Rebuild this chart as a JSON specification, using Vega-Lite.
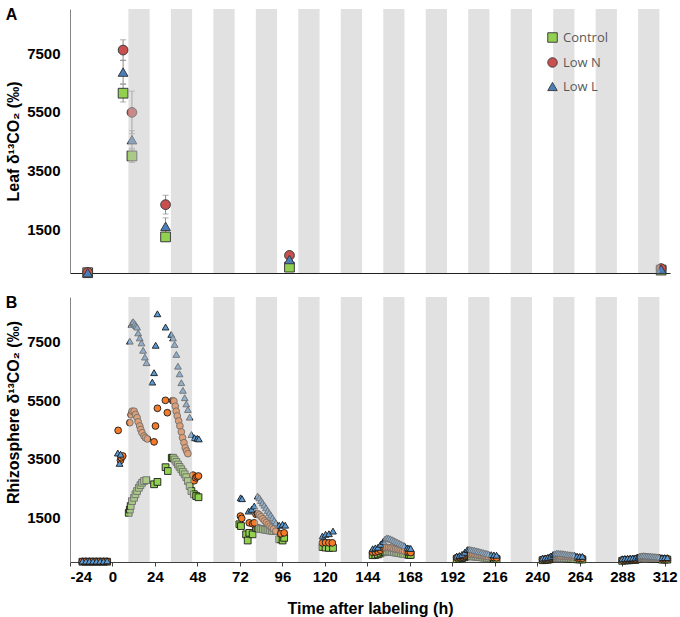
{
"$schema": "https://vega.github.io/schema/vega-lite/v6.json",
"padding": {"left": 5, "top": 7, "right": 2, "bottom": 2},
"spacing": 15,
"config": {
  "view": {"stroke": null},
  "font": "Liberation Sans",
  "axis": {"grid": false, "labelFontSize": 15, "labelFontWeight": "bold", "labelColor": "#000000", "titleFontSize": 16, "titleFontWeight": "bold", "titleColor": "#000000"},
  "legend": {"orient": "none", "legendX": 476, "legendY": 22, "labelFont": "Open Sans", "labelFontSize": 13, "labelColor": "#595959", "symbolStrokeColor": "#404040", "symbolStrokeWidth": 1, "symbolSize": 90, "rowPadding": 10, "labelOffset": 4, "title": null}
},
"resolve": {"scale": {"color": "independent", "shape": "independent"}, "legend": {"color": "independent", "shape": "independent"}},
"datasets": {
  "bands": [
    {"s": 9, "e": 21}, {"s": 33, "e": 45}, {"s": 57, "e": 69}, {"s": 81, "e": 93}, {"s": 105, "e": 117},
    {"s": 129, "e": 141}, {"s": 153, "e": 165}, {"s": 177, "e": 189}, {"s": 201, "e": 213}, {"s": 225, "e": 237},
    {"s": 249, "e": 261}, {"s": 273, "e": 285}, {"s": 297, "e": 309}
  ],
  "leaf": [
    {"t": -14, "g": "Control", "v": 10, "lo": 10, "hi": 10},
    {"t": 6, "g": "Control", "v": 6130, "lo": 5830, "hi": 6430},
    {"t": 11, "g": "Control", "v": 3990, "lo": 3770, "hi": 4200},
    {"t": 30, "g": "Control", "v": 1230, "lo": 1100, "hi": 1360},
    {"t": 100, "g": "Control", "v": 200, "lo": 170, "hi": 230},
    {"t": 310, "g": "Control", "v": 100, "lo": 100, "hi": 100},
    {"t": -14, "g": "Low N", "v": 20, "lo": 20, "hi": 20},
    {"t": 6, "g": "Low N", "v": 7600, "lo": 7250, "hi": 7950},
    {"t": 11, "g": "Low N", "v": 5475, "lo": 4750, "hi": 6200},
    {"t": 30, "g": "Low N", "v": 2330, "lo": 2010, "hi": 2650},
    {"t": 100, "g": "Low N", "v": 600, "lo": 540, "hi": 660},
    {"t": 310, "g": "Low N", "v": 150, "lo": 150, "hi": 150},
    {"t": -14, "g": "Low L", "v": 10, "lo": 10, "hi": 10},
    {"t": 6, "g": "Low L", "v": 6850, "lo": 6450, "hi": 7250},
    {"t": 11, "g": "Low L", "v": 4545, "lo": 4250, "hi": 4850},
    {"t": 30, "g": "Low L", "v": 1590, "lo": 1300, "hi": 1880},
    {"t": 100, "g": "Low L", "v": 460, "lo": 420, "hi": 500},
    {"t": 310, "g": "Low L", "v": 130, "lo": 130, "hi": 130}
  ],
  "rhizo": [
    {"t": -17, "g": "Control", "v": 10}, {"t": -15, "g": "Control", "v": 10}, {"t": -13, "g": "Control", "v": 10}, {"t": -11, "g": "Control", "v": 10}, {"t": -9, "g": "Control", "v": 10}, {"t": -7, "g": "Control", "v": 10}, {"t": -5, "g": "Control", "v": 10}, {"t": -3, "g": "Control", "v": 10},
    {"t": 9.2, "g": "Control", "v": 1670}, {"t": 9.8, "g": "Control", "v": 1780}, {"t": 10.3, "g": "Control", "v": 1900}, {"t": 11.1, "g": "Control", "v": 2070}, {"t": 12.2, "g": "Control", "v": 2180}, {"t": 13, "g": "Control", "v": 2300}, {"t": 13.9, "g": "Control", "v": 2410}, {"t": 14.9, "g": "Control", "v": 2520}, {"t": 15.8, "g": "Control", "v": 2610}, {"t": 16.7, "g": "Control", "v": 2690}, {"t": 17.8, "g": "Control", "v": 2750}, {"t": 19.1, "g": "Control", "v": 2780},
    {"t": 23.5, "g": "Control", "v": 2640}, {"t": 25.4, "g": "Control", "v": 2720}, {"t": 30, "g": "Control", "v": 3220}, {"t": 31.3, "g": "Control", "v": 3090},
    {"t": 33.5, "g": "Control", "v": 3540}, {"t": 34.2, "g": "Control", "v": 3540}, {"t": 35.1, "g": "Control", "v": 3480}, {"t": 36.1, "g": "Control", "v": 3400}, {"t": 37, "g": "Control", "v": 3310}, {"t": 37.9, "g": "Control", "v": 3230}, {"t": 38.9, "g": "Control", "v": 3150}, {"t": 39.8, "g": "Control", "v": 3060}, {"t": 40.8, "g": "Control", "v": 2980}, {"t": 41.7, "g": "Control", "v": 2880}, {"t": 42.6, "g": "Control", "v": 2750}, {"t": 43.6, "g": "Control", "v": 2580}, {"t": 44.6, "g": "Control", "v": 2410},
    {"t": 46, "g": "Control", "v": 2300}, {"t": 47.3, "g": "Control", "v": 2240}, {"t": 48.6, "g": "Control", "v": 2200},
    {"t": 71.7, "g": "Control", "v": 1280}, {"t": 72.6, "g": "Control", "v": 1220}, {"t": 75.5, "g": "Control", "v": 940}, {"t": 76.4, "g": "Control", "v": 730}, {"t": 77.3, "g": "Control", "v": 990}, {"t": 79.2, "g": "Control", "v": 940},
    {"t": 81.1, "g": "Control", "v": 1160}, {"t": 82, "g": "Control", "v": 1140}, {"t": 83, "g": "Control", "v": 1130}, {"t": 84, "g": "Control", "v": 1120}, {"t": 85, "g": "Control", "v": 1110}, {"t": 86, "g": "Control", "v": 1100}, {"t": 87, "g": "Control", "v": 1090}, {"t": 88, "g": "Control", "v": 1080}, {"t": 89, "g": "Control", "v": 1070}, {"t": 90, "g": "Control", "v": 1060}, {"t": 91, "g": "Control", "v": 1050}, {"t": 92.3, "g": "Control", "v": 1050},
    {"t": 94.2, "g": "Control", "v": 770}, {"t": 96.1, "g": "Control", "v": 730}, {"t": 97, "g": "Control", "v": 820},
    {"t": 118.6, "g": "Control", "v": 510}, {"t": 120.4, "g": "Control", "v": 490}, {"t": 122.3, "g": "Control", "v": 480}, {"t": 124.6, "g": "Control", "v": 480},
    {"t": 147, "g": "Control", "v": 230}, {"t": 148.5, "g": "Control", "v": 240}, {"t": 150, "g": "Control", "v": 260}, {"t": 151.5, "g": "Control", "v": 290}, {"t": 153, "g": "Control", "v": 330}, {"t": 154, "g": "Control", "v": 350}, {"t": 155, "g": "Control", "v": 360}, {"t": 156, "g": "Control", "v": 360}, {"t": 157, "g": "Control", "v": 350}, {"t": 158, "g": "Control", "v": 340}, {"t": 159, "g": "Control", "v": 330}, {"t": 160, "g": "Control", "v": 320}, {"t": 161, "g": "Control", "v": 310}, {"t": 162, "g": "Control", "v": 300}, {"t": 163, "g": "Control", "v": 290}, {"t": 164, "g": "Control", "v": 280}, {"t": 165, "g": "Control", "v": 270}, {"t": 166.5, "g": "Control", "v": 250}, {"t": 167.5, "g": "Control", "v": 240}, {"t": 168.5, "g": "Control", "v": 240},
    {"t": 194.5, "g": "Control", "v": 100}, {"t": 196, "g": "Control", "v": 110}, {"t": 197.5, "g": "Control", "v": 130}, {"t": 199, "g": "Control", "v": 160}, {"t": 200.5, "g": "Control", "v": 190}, {"t": 201.5, "g": "Control", "v": 200}, {"t": 202.5, "g": "Control", "v": 195}, {"t": 203.5, "g": "Control", "v": 190}, {"t": 204.5, "g": "Control", "v": 185}, {"t": 205.5, "g": "Control", "v": 180}, {"t": 206.5, "g": "Control", "v": 170}, {"t": 207.5, "g": "Control", "v": 165}, {"t": 208.5, "g": "Control", "v": 160}, {"t": 209.5, "g": "Control", "v": 150}, {"t": 210.5, "g": "Control", "v": 145}, {"t": 211.5, "g": "Control", "v": 140}, {"t": 212.5, "g": "Control", "v": 130}, {"t": 214, "g": "Control", "v": 120}, {"t": 215.5, "g": "Control", "v": 110}, {"t": 217, "g": "Control", "v": 100},
    {"t": 243, "g": "Control", "v": 60}, {"t": 244.5, "g": "Control", "v": 65}, {"t": 246, "g": "Control", "v": 75}, {"t": 247.5, "g": "Control", "v": 95}, {"t": 249, "g": "Control", "v": 130}, {"t": 250, "g": "Control", "v": 140}, {"t": 251, "g": "Control", "v": 150}, {"t": 252, "g": "Control", "v": 150}, {"t": 253, "g": "Control", "v": 145}, {"t": 254, "g": "Control", "v": 140}, {"t": 255, "g": "Control", "v": 135}, {"t": 256, "g": "Control", "v": 130}, {"t": 257, "g": "Control", "v": 125}, {"t": 258, "g": "Control", "v": 120}, {"t": 259, "g": "Control", "v": 115}, {"t": 260, "g": "Control", "v": 110}, {"t": 261, "g": "Control", "v": 105}, {"t": 262.5, "g": "Control", "v": 90}, {"t": 264, "g": "Control", "v": 85}, {"t": 265.5, "g": "Control", "v": 85},
    {"t": 288, "g": "Control", "v": 40}, {"t": 289.5, "g": "Control", "v": 50}, {"t": 291, "g": "Control", "v": 55}, {"t": 292.5, "g": "Control", "v": 60}, {"t": 294, "g": "Control", "v": 65}, {"t": 295.5, "g": "Control", "v": 70}, {"t": 297, "g": "Control", "v": 100}, {"t": 298, "g": "Control", "v": 130}, {"t": 299, "g": "Control", "v": 140}, {"t": 300, "g": "Control", "v": 145}, {"t": 301, "g": "Control", "v": 140}, {"t": 302, "g": "Control", "v": 135}, {"t": 303, "g": "Control", "v": 130}, {"t": 304, "g": "Control", "v": 125}, {"t": 305, "g": "Control", "v": 120}, {"t": 306, "g": "Control", "v": 115}, {"t": 307, "g": "Control", "v": 110}, {"t": 308, "g": "Control", "v": 105}, {"t": 309, "g": "Control", "v": 100}, {"t": 310.5, "g": "Control", "v": 80}, {"t": 312, "g": "Control", "v": 80}, {"t": 313.5, "g": "Control", "v": 80},

    {"t": -17, "g": "Low N", "v": 20}, {"t": -15, "g": "Low N", "v": 20}, {"t": -13, "g": "Low N", "v": 20}, {"t": -11, "g": "Low N", "v": 20}, {"t": -9, "g": "Low N", "v": 20}, {"t": -7, "g": "Low N", "v": 20}, {"t": -5, "g": "Low N", "v": 20}, {"t": -3, "g": "Low N", "v": 20},
    {"t": 3.2, "g": "Low N", "v": 4470}, {"t": 4.5, "g": "Low N", "v": 3450}, {"t": 5, "g": "Low N", "v": 3540}, {"t": 5.8, "g": "Low N", "v": 3600},
    {"t": 9.8, "g": "Low N", "v": 4730}, {"t": 10.5, "g": "Low N", "v": 5000}, {"t": 11.1, "g": "Low N", "v": 5120}, {"t": 12.2, "g": "Low N", "v": 5120}, {"t": 13, "g": "Low N", "v": 5010}, {"t": 13.9, "g": "Low N", "v": 4900}, {"t": 14.5, "g": "Low N", "v": 4760}, {"t": 15.4, "g": "Low N", "v": 4620}, {"t": 16, "g": "Low N", "v": 4500}, {"t": 16.7, "g": "Low N", "v": 4390}, {"t": 17.8, "g": "Low N", "v": 4280}, {"t": 18.6, "g": "Low N", "v": 4220}, {"t": 19.7, "g": "Low N", "v": 4180},
    {"t": 23.5, "g": "Low N", "v": 4080}, {"t": 24.3, "g": "Low N", "v": 4620}, {"t": 25.4, "g": "Low N", "v": 5220}, {"t": 29.9, "g": "Low N", "v": 5490}, {"t": 31, "g": "Low N", "v": 5070},
    {"t": 34, "g": "Low N", "v": 5480}, {"t": 34.7, "g": "Low N", "v": 5460}, {"t": 35.5, "g": "Low N", "v": 5290}, {"t": 36, "g": "Low N", "v": 5120}, {"t": 36.6, "g": "Low N", "v": 4960}, {"t": 37.4, "g": "Low N", "v": 4790}, {"t": 38.1, "g": "Low N", "v": 4620}, {"t": 38.9, "g": "Low N", "v": 4420}, {"t": 39.6, "g": "Low N", "v": 4220}, {"t": 40.4, "g": "Low N", "v": 4050}, {"t": 41.1, "g": "Low N", "v": 3880}, {"t": 41.9, "g": "Low N", "v": 3770}, {"t": 42.6, "g": "Low N", "v": 3680},
    {"t": 45.5, "g": "Low N", "v": 2950}, {"t": 46.2, "g": "Low N", "v": 2760}, {"t": 47, "g": "Low N", "v": 2860}, {"t": 47.8, "g": "Low N", "v": 2900}, {"t": 48.6, "g": "Low N", "v": 2920},
    {"t": 72.3, "g": "Low N", "v": 1560}, {"t": 73, "g": "Low N", "v": 1480}, {"t": 77.3, "g": "Low N", "v": 1330}, {"t": 79.2, "g": "Low N", "v": 1300}, {"t": 80.1, "g": "Low N", "v": 1330},
    {"t": 81.1, "g": "Low N", "v": 1620}, {"t": 82, "g": "Low N", "v": 1640}, {"t": 83, "g": "Low N", "v": 1600}, {"t": 84, "g": "Low N", "v": 1540}, {"t": 85, "g": "Low N", "v": 1470}, {"t": 86, "g": "Low N", "v": 1400}, {"t": 87, "g": "Low N", "v": 1340}, {"t": 88, "g": "Low N", "v": 1280}, {"t": 89, "g": "Low N", "v": 1220}, {"t": 90, "g": "Low N", "v": 1170}, {"t": 91, "g": "Low N", "v": 1120}, {"t": 92.3, "g": "Low N", "v": 1050},
    {"t": 95.1, "g": "Low N", "v": 960}, {"t": 97, "g": "Low N", "v": 990},
    {"t": 118.6, "g": "Low N", "v": 650}, {"t": 120.4, "g": "Low N", "v": 660}, {"t": 122.3, "g": "Low N", "v": 650}, {"t": 124.2, "g": "Low N", "v": 650},
    {"t": 147, "g": "Low N", "v": 330}, {"t": 148.5, "g": "Low N", "v": 340}, {"t": 150, "g": "Low N", "v": 360}, {"t": 151.5, "g": "Low N", "v": 400}, {"t": 153, "g": "Low N", "v": 470}, {"t": 154, "g": "Low N", "v": 490}, {"t": 155, "g": "Low N", "v": 500}, {"t": 156, "g": "Low N", "v": 490}, {"t": 157, "g": "Low N", "v": 480}, {"t": 158, "g": "Low N", "v": 470}, {"t": 159, "g": "Low N", "v": 450}, {"t": 160, "g": "Low N", "v": 440}, {"t": 161, "g": "Low N", "v": 430}, {"t": 162, "g": "Low N", "v": 410}, {"t": 163, "g": "Low N", "v": 400}, {"t": 164, "g": "Low N", "v": 380}, {"t": 165, "g": "Low N", "v": 370}, {"t": 166.5, "g": "Low N", "v": 340}, {"t": 167.5, "g": "Low N", "v": 330}, {"t": 168.5, "g": "Low N", "v": 320},
    {"t": 194.5, "g": "Low N", "v": 150}, {"t": 196, "g": "Low N", "v": 160}, {"t": 197.5, "g": "Low N", "v": 180}, {"t": 199, "g": "Low N", "v": 220}, {"t": 200.5, "g": "Low N", "v": 270}, {"t": 201.5, "g": "Low N", "v": 280}, {"t": 202.5, "g": "Low N", "v": 275}, {"t": 203.5, "g": "Low N", "v": 270}, {"t": 204.5, "g": "Low N", "v": 260}, {"t": 205.5, "g": "Low N", "v": 250}, {"t": 206.5, "g": "Low N", "v": 240}, {"t": 207.5, "g": "Low N", "v": 230}, {"t": 208.5, "g": "Low N", "v": 220}, {"t": 209.5, "g": "Low N", "v": 210}, {"t": 210.5, "g": "Low N", "v": 200}, {"t": 211.5, "g": "Low N", "v": 190}, {"t": 212.5, "g": "Low N", "v": 180}, {"t": 214, "g": "Low N", "v": 160}, {"t": 215.5, "g": "Low N", "v": 150}, {"t": 217, "g": "Low N", "v": 140},
    {"t": 243, "g": "Low N", "v": 90}, {"t": 244.5, "g": "Low N", "v": 100}, {"t": 246, "g": "Low N", "v": 110}, {"t": 247.5, "g": "Low N", "v": 140}, {"t": 249, "g": "Low N", "v": 190}, {"t": 250, "g": "Low N", "v": 200}, {"t": 251, "g": "Low N", "v": 210}, {"t": 252, "g": "Low N", "v": 210}, {"t": 253, "g": "Low N", "v": 205}, {"t": 254, "g": "Low N", "v": 200}, {"t": 255, "g": "Low N", "v": 195}, {"t": 256, "g": "Low N", "v": 190}, {"t": 257, "g": "Low N", "v": 185}, {"t": 258, "g": "Low N", "v": 180}, {"t": 259, "g": "Low N", "v": 175}, {"t": 260, "g": "Low N", "v": 170}, {"t": 261, "g": "Low N", "v": 165}, {"t": 262.5, "g": "Low N", "v": 140}, {"t": 264, "g": "Low N", "v": 130}, {"t": 265.5, "g": "Low N", "v": 130},
    {"t": 288, "g": "Low N", "v": 70}, {"t": 289.5, "g": "Low N", "v": 80}, {"t": 291, "g": "Low N", "v": 85}, {"t": 292.5, "g": "Low N", "v": 90}, {"t": 294, "g": "Low N", "v": 95}, {"t": 295.5, "g": "Low N", "v": 100}, {"t": 297, "g": "Low N", "v": 130}, {"t": 298, "g": "Low N", "v": 160}, {"t": 299, "g": "Low N", "v": 170}, {"t": 300, "g": "Low N", "v": 175}, {"t": 301, "g": "Low N", "v": 170}, {"t": 302, "g": "Low N", "v": 165}, {"t": 303, "g": "Low N", "v": 160}, {"t": 304, "g": "Low N", "v": 155}, {"t": 305, "g": "Low N", "v": 150}, {"t": 306, "g": "Low N", "v": 145}, {"t": 307, "g": "Low N", "v": 140}, {"t": 308, "g": "Low N", "v": 135}, {"t": 309, "g": "Low N", "v": 130}, {"t": 310.5, "g": "Low N", "v": 110}, {"t": 312, "g": "Low N", "v": 110}, {"t": 313.5, "g": "Low N", "v": 110},

    {"t": -17, "g": "Low L", "v": 30}, {"t": -15, "g": "Low L", "v": 30}, {"t": -13, "g": "Low L", "v": 30}, {"t": -11, "g": "Low L", "v": 30}, {"t": -9, "g": "Low L", "v": 30}, {"t": -7, "g": "Low L", "v": 30}, {"t": -5, "g": "Low L", "v": 30}, {"t": -3, "g": "Low L", "v": 40},
    {"t": 3, "g": "Low L", "v": 3700}, {"t": 4, "g": "Low L", "v": 3350}, {"t": 4.6, "g": "Low L", "v": 3660},
    {"t": 9.8, "g": "Low L", "v": 7500}, {"t": 10.7, "g": "Low L", "v": 8070}, {"t": 11.2, "g": "Low L", "v": 8130}, {"t": 11.7, "g": "Low L", "v": 8160}, {"t": 12.6, "g": "Low L", "v": 8090}, {"t": 13.3, "g": "Low L", "v": 8030}, {"t": 13.9, "g": "Low L", "v": 7980}, {"t": 14.5, "g": "Low L", "v": 7780}, {"t": 15.4, "g": "Low L", "v": 7610}, {"t": 16.4, "g": "Low L", "v": 7440}, {"t": 17.3, "g": "Low L", "v": 7190}, {"t": 18.3, "g": "Low L", "v": 6960}, {"t": 19.2, "g": "Low L", "v": 6770},
    {"t": 22.5, "g": "Low L", "v": 6110}, {"t": 23.5, "g": "Low L", "v": 6430}, {"t": 24.4, "g": "Low L", "v": 7360}, {"t": 25.4, "g": "Low L", "v": 8430}, {"t": 30, "g": "Low L", "v": 7980},
    {"t": 33.2, "g": "Low L", "v": 7730}, {"t": 34.2, "g": "Low L", "v": 7610}, {"t": 35.1, "g": "Low L", "v": 7390}, {"t": 36.1, "g": "Low L", "v": 7050}, {"t": 37, "g": "Low L", "v": 6650}, {"t": 37.9, "g": "Low L", "v": 6390}, {"t": 38.9, "g": "Low L", "v": 6090}, {"t": 39.8, "g": "Low L", "v": 5830}, {"t": 40.8, "g": "Low L", "v": 5580}, {"t": 41.7, "g": "Low L", "v": 5370}, {"t": 42.6, "g": "Low L", "v": 5180}, {"t": 43.6, "g": "Low L", "v": 4920}, {"t": 44.6, "g": "Low L", "v": 4330},
    {"t": 46.3, "g": "Low L", "v": 4220}, {"t": 47.9, "g": "Low L", "v": 4200}, {"t": 48.8, "g": "Low L", "v": 4180},
    {"t": 72.4, "g": "Low L", "v": 2180}, {"t": 73.2, "g": "Low L", "v": 2150}, {"t": 76.9, "g": "Low L", "v": 1730}, {"t": 78.6, "g": "Low L", "v": 1790}, {"t": 80.1, "g": "Low L", "v": 1900},
    {"t": 82, "g": "Low L", "v": 2240}, {"t": 83, "g": "Low L", "v": 2180}, {"t": 83.9, "g": "Low L", "v": 2090}, {"t": 84.8, "g": "Low L", "v": 2010}, {"t": 85.8, "g": "Low L", "v": 1930}, {"t": 86.7, "g": "Low L", "v": 1840}, {"t": 87.7, "g": "Low L", "v": 1750}, {"t": 88.6, "g": "Low L", "v": 1670}, {"t": 89.5, "g": "Low L", "v": 1590}, {"t": 90.4, "g": "Low L", "v": 1500}, {"t": 91.4, "g": "Low L", "v": 1410}, {"t": 92.3, "g": "Low L", "v": 1330},
    {"t": 94.2, "g": "Low L", "v": 1250}, {"t": 96.1, "g": "Low L", "v": 1280}, {"t": 97.6, "g": "Low L", "v": 1250},
    {"t": 118.6, "g": "Low L", "v": 880}, {"t": 120.4, "g": "Low L", "v": 940}, {"t": 122.3, "g": "Low L", "v": 960}, {"t": 124.6, "g": "Low L", "v": 1050},
    {"t": 147, "g": "Low L", "v": 450}, {"t": 148.5, "g": "Low L", "v": 480}, {"t": 150, "g": "Low L", "v": 500}, {"t": 151.5, "g": "Low L", "v": 600}, {"t": 153, "g": "Low L", "v": 700}, {"t": 154, "g": "Low L", "v": 780}, {"t": 155, "g": "Low L", "v": 820}, {"t": 156, "g": "Low L", "v": 810}, {"t": 157, "g": "Low L", "v": 790}, {"t": 158, "g": "Low L", "v": 760}, {"t": 159, "g": "Low L", "v": 730}, {"t": 160, "g": "Low L", "v": 700}, {"t": 161, "g": "Low L", "v": 670}, {"t": 162, "g": "Low L", "v": 640}, {"t": 163, "g": "Low L", "v": 610}, {"t": 164, "g": "Low L", "v": 580}, {"t": 165, "g": "Low L", "v": 550}, {"t": 166.5, "g": "Low L", "v": 480}, {"t": 167.5, "g": "Low L", "v": 470}, {"t": 168.5, "g": "Low L", "v": 460},
    {"t": 194.5, "g": "Low L", "v": 200}, {"t": 196, "g": "Low L", "v": 220}, {"t": 197.5, "g": "Low L", "v": 260}, {"t": 199, "g": "Low L", "v": 330}, {"t": 200.5, "g": "Low L", "v": 420}, {"t": 201.5, "g": "Low L", "v": 430}, {"t": 202.5, "g": "Low L", "v": 420}, {"t": 203.5, "g": "Low L", "v": 410}, {"t": 204.5, "g": "Low L", "v": 400}, {"t": 205.5, "g": "Low L", "v": 380}, {"t": 206.5, "g": "Low L", "v": 370}, {"t": 207.5, "g": "Low L", "v": 350}, {"t": 208.5, "g": "Low L", "v": 340}, {"t": 209.5, "g": "Low L", "v": 320}, {"t": 210.5, "g": "Low L", "v": 300}, {"t": 211.5, "g": "Low L", "v": 290}, {"t": 212.5, "g": "Low L", "v": 270}, {"t": 214, "g": "Low L", "v": 250}, {"t": 215.5, "g": "Low L", "v": 240}, {"t": 217, "g": "Low L", "v": 230},
    {"t": 243, "g": "Low L", "v": 130}, {"t": 244.5, "g": "Low L", "v": 140}, {"t": 246, "g": "Low L", "v": 160}, {"t": 247.5, "g": "Low L", "v": 200}, {"t": 249, "g": "Low L", "v": 260}, {"t": 250, "g": "Low L", "v": 280}, {"t": 251, "g": "Low L", "v": 300}, {"t": 252, "g": "Low L", "v": 300}, {"t": 253, "g": "Low L", "v": 290}, {"t": 254, "g": "Low L", "v": 285}, {"t": 255, "g": "Low L", "v": 280}, {"t": 256, "g": "Low L", "v": 270}, {"t": 257, "g": "Low L", "v": 260}, {"t": 258, "g": "Low L", "v": 250}, {"t": 259, "g": "Low L", "v": 245}, {"t": 260, "g": "Low L", "v": 240}, {"t": 261, "g": "Low L", "v": 235}, {"t": 262.5, "g": "Low L", "v": 200}, {"t": 264, "g": "Low L", "v": 190}, {"t": 265.5, "g": "Low L", "v": 190},
    {"t": 288, "g": "Low L", "v": 110}, {"t": 289.5, "g": "Low L", "v": 120}, {"t": 291, "g": "Low L", "v": 125}, {"t": 292.5, "g": "Low L", "v": 130}, {"t": 294, "g": "Low L", "v": 135}, {"t": 295.5, "g": "Low L", "v": 140}, {"t": 297, "g": "Low L", "v": 170}, {"t": 298, "g": "Low L", "v": 200}, {"t": 299, "g": "Low L", "v": 210}, {"t": 300, "g": "Low L", "v": 215}, {"t": 301, "g": "Low L", "v": 210}, {"t": 302, "g": "Low L", "v": 205}, {"t": 303, "g": "Low L", "v": 200}, {"t": 304, "g": "Low L", "v": 195}, {"t": 305, "g": "Low L", "v": 190}, {"t": 306, "g": "Low L", "v": 185}, {"t": 307, "g": "Low L", "v": 180}, {"t": 308, "g": "Low L", "v": 175}, {"t": 309, "g": "Low L", "v": 170}, {"t": 310.5, "g": "Low L", "v": 150}, {"t": 312, "g": "Low L", "v": 150}, {"t": 313.5, "g": "Low L", "v": 150}
  ]
},
"vconcat": [
  {
    "width": 600, "height": 264,
    "title": {"text": "A", "anchor": "start", "frame": "bounds", "fontSize": 16, "fontWeight": "bold", "offset": -14, "font": "Liberation Sans"},
    "layer": [
      {
        "data": {"name": "leaf"},
        "mark": {"type": "rule", "color": "#8c8c8c", "strokeWidth": 1},
        "encoding": {
          "x": {"field": "t", "type": "quantitative", "scale": {"domain": [-24, 315], "nice": false, "zero": false},
                "axis": {"title": null, "labels": false, "ticks": false, "domainColor": "#202020", "values": [-24, 0, 24, 48, 72, 96, 120, 144, 168, 192, 216, 240, 264, 288, 312]}},
          "y": {"field": "lo", "type": "quantitative", "scale": {"domain": [0, 9000], "nice": false},
                "axis": {"title": "Leaf  δ¹³CO₂ (‰)", "format": "d", "values": [1500, 3500, 5500, 7500], "ticks": false, "domainColor": "#868686", "labelPadding": 10, "titlePadding": 5}},
          "y2": {"field": "hi"}
        }
      },
      {
        "data": {"name": "leaf"},
        "mark": {"type": "tick", "color": "#8c8c8c", "orient": "horizontal", "size": 6, "thickness": 1},
        "encoding": {"x": {"field": "t", "type": "quantitative"}, "y": {"field": "lo", "type": "quantitative"}}
      },
      {
        "data": {"name": "leaf"},
        "mark": {"type": "tick", "color": "#8c8c8c", "orient": "horizontal", "size": 6, "thickness": 1},
        "encoding": {"x": {"field": "t", "type": "quantitative"}, "y": {"field": "hi", "type": "quantitative"}}
      },
      {
        "data": {"name": "leaf"},
        "mark": {"type": "point", "filled": true, "size": 95, "stroke": "#3a3a3a", "strokeWidth": 1, "opacity": 1},
        "encoding": {
          "x": {"field": "t", "type": "quantitative"},
          "y": {"field": "v", "type": "quantitative"},
          "color": {"field": "g", "type": "nominal", "sort": null, "scale": {"domain": ["Control", "Low N", "Low L"], "range": ["#92d050", "#c9504f", "#4a7ebb"]}},
          "shape": {"field": "g", "type": "nominal", "sort": null, "scale": {"domain": ["Control", "Low N", "Low L"], "range": ["square", "circle", "triangle-up"]}}
        }
      },
      {
        "data": {"name": "bands"},
        "mark": {"type": "rect", "color": "#c4c4c4", "opacity": 0.5},
        "encoding": {"x": {"field": "s", "type": "quantitative"}, "x2": {"field": "e"}}
      }
    ]
  },
  {
    "width": 600, "height": 265,
    "title": {"text": "B", "anchor": "start", "frame": "bounds", "fontSize": 16, "fontWeight": "bold", "offset": -14, "font": "Liberation Sans"},
    "layer": [
      {
        "data": {"name": "rhizo"},
        "mark": {"type": "point", "filled": true, "size": 46, "stroke": "#1a1a1a", "strokeWidth": 0.9, "opacity": 1},
        "encoding": {
          "x": {"field": "t", "type": "quantitative", "scale": {"domain": [-24, 315], "nice": false, "zero": false},
                "axis": {"title": "Time after labeling (h)", "labelExpr": "'' + datum.value", "values": [-24, 0, 24, 48, 72, 96, 120, 144, 168, 192, 216, 240, 264, 288, 312], "tickSize": 4, "tickColor": "#404040", "domainColor": "#404040", "labelPadding": 3, "titlePadding": 16}},
          "y": {"field": "v", "type": "quantitative", "scale": {"domain": [0, 9000], "nice": false},
                "axis": {"title": "Rhizosphere  δ¹³CO₂ (‰)", "format": "d", "values": [1500, 3500, 5500, 7500], "ticks": false, "domainColor": "#868686", "labelPadding": 10, "titlePadding": 5, "titleY": 115}},
          "color": {"field": "g", "type": "nominal", "sort": null, "legend": null, "scale": {"domain": ["Control", "Low N", "Low L"], "range": ["#92d050", "#f47b2a", "#5b9bd5"]}},
          "shape": {"field": "g", "type": "nominal", "sort": null, "legend": null, "scale": {"domain": ["Control", "Low N", "Low L"], "range": ["square", "circle", "triangle-up"]}}
        }
      },
      {
        "data": {"name": "bands"},
        "mark": {"type": "rect", "color": "#c4c4c4", "opacity": 0.5},
        "encoding": {"x": {"field": "s", "type": "quantitative"}, "x2": {"field": "e"}}
      }
    ]
  }
]
}
